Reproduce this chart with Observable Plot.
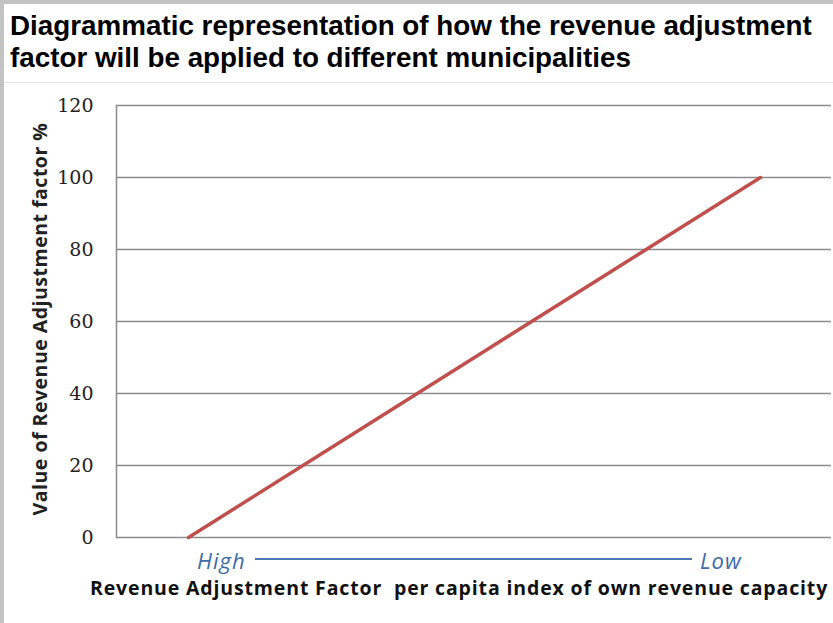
<!DOCTYPE html>
<html>
<head>
<meta charset="utf-8">
<script src="https://cdn.jsdelivr.net/npm/d3@7"></script>
<script src="https://cdn.jsdelivr.net/npm/@observablehq/plot@0.6"></script>
<style>
  html, body { margin: 0; padding: 0; background: #c3c3c3; }
  #wrap { position: absolute; left: 4px; top: 4px; width: 829px; height: 619px; background: #fff; overflow: hidden; }
  #title { position: absolute; left: 6px; top: 6px; width: 822px; font-family: "Liberation Sans", Arial, sans-serif; font-weight: bold; font-size: 27.8px; line-height: 32px; color: #000; white-space: nowrap; }
  #sep { position: absolute; left: 0; top: 78px; width: 829px; height: 1px; background: #e6e6e6; }
  #chart { position: absolute; left: 1px; top: 84px; }
  #ylabel { position: absolute; left: 35px; top: 315px; transform: translate(-50%, -50%) rotate(-90deg); white-space: nowrap; font-family: "Open Sans", sans-serif; font-weight: bold; font-size: 19.5px; letter-spacing: 0.5px; color: #222; }
  #high, #low { position: absolute; top: 541px; font-family: "Open Sans", sans-serif; font-style: italic; font-size: 22px; letter-spacing: 1px; color: #3d6aa8; }
  #high { left: 193px; }
  #low { left: 696px; }
  #hiloLine { position: absolute; top: 554px; left: 251px; width: 437px; height: 1.5px; background: #4a78b5; }
  #xlabel { position: absolute; top: 570px; left: 86px; font-family: "Open Sans", sans-serif; font-weight: bold; font-size: 19.5px; letter-spacing: 0.85px; color: #111; white-space: pre; }
</style>
</head>
<body>
<div id="wrap">
  <div id="title">Diagrammatic representation of how the revenue adjustment<br>factor will be applied to different municipalities</div>
  <div id="sep"></div>
  <div id="chart"></div>
  <div id="ylabel">Value of Revenue Adjustment factor %</div>
  <span id="high">High</span><span id="hiloLine"></span><span id="low">Low</span>
  <div id="xlabel">Revenue Adjustment Factor  per capita index of own revenue capacity</div>
</div>
<script>
// Unlabeled category positions along the x axis (High -> Low own revenue capacity)
const categories = ["1", "2", "3", "4", "5"];
// Value of Revenue Adjustment factor % at each position
const adjustmentFactor = [0, 25, 50, 75, 100];
// Y tick labels
const yTicks = [0, 20, 40, 60, 80, 100, 120];

const data = categories.map((c, i) => ({cat: c, value: adjustmentFactor[i]}));

const chart = Plot.plot({
  width: 828,
  height: 460,
  marginTop: 17,
  marginBottom: 11,
  marginLeft: 111,
  marginRight: 2,
  style: {background: "transparent", overflow: "visible"},
  x: {type: "point", domain: categories, padding: 0.5, axis: null},
  y: {domain: [0, 120], axis: null},
  marks: [
    Plot.gridY(yTicks, {stroke: "#8c8c8c", strokeOpacity: 1, strokeWidth: 1.5}),
    Plot.frame({anchor: "left", stroke: "#8c8c8c", strokeWidth: 1.5}),
    Plot.axisY(yTicks, {tickSize: 0, tickPadding: 23, label: null, fontSize: 19, fontFamily: "DejaVu Serif", fill: "#222"}),
    Plot.line(data, {x: "cat", y: "value", stroke: "#c0504d", strokeWidth: 3.5})
  ]
});
document.getElementById("chart").appendChild(chart);
</script>
</body>
</html>
